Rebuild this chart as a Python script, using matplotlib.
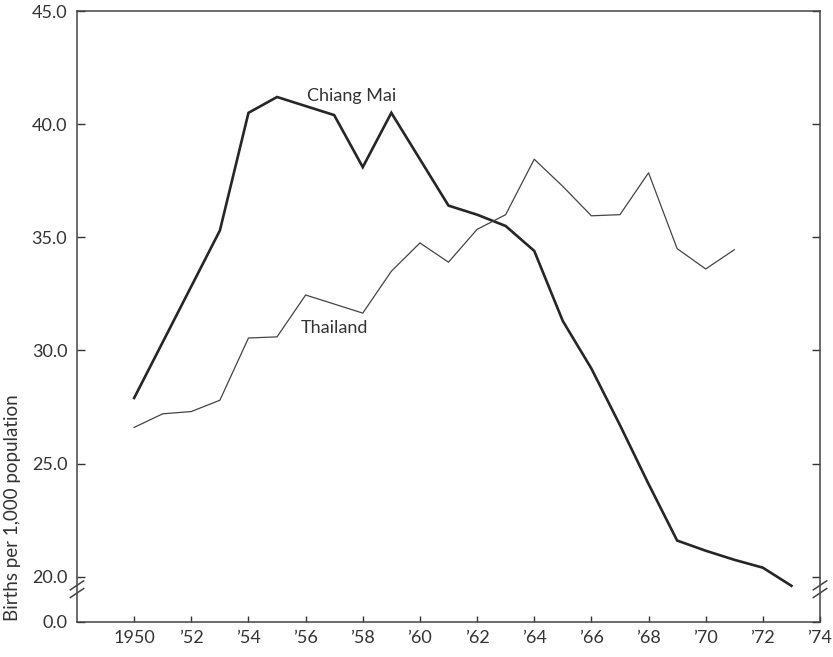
import matplotlib.pyplot as plt
import matplotlib.transforms as mtransforms

# values
cm_years = [1950, 1953, 1954, 1955, 1957, 1958, 1959, 1961, 1962, 1963, 1964,
            1965, 1966, 1967, 1968, 1969, 1970, 1971, 1972, 1973]
cm_rates = [27.9, 35.3, 40.5, 41.2, 40.4, 38.1, 40.5, 36.4, 36.0, 35.5, 34.4,
            31.3, 29.2, 26.7, 24.1, 21.6, 21.15, 20.75, 20.4, 19.6]

th_years = list(range(1950, 1972))
th_rates = [26.6, 27.2, 27.3, 27.8, 30.55, 30.6, 32.45, 32.05, 31.65, 33.5, 34.75,
            33.9, 35.35, 36.0, 38.45, 37.25, 35.95, 36.0, 37.85, 34.5, 33.6, 34.45]

x_ticks = list(range(1950, 1975, 2))
x_labels = ["1950"] + ["\u2019" + str(y)[2:] for y in x_ticks[1:]]

# the y axis is broken: "0.0" sits two units below 20.0
y_zero_pos = 18.0
y_ticks = [y_zero_pos, 20, 25, 30, 35, 40, 45]
y_labels = ["0.0", "20.0", "25.0", "30.0", "35.0", "40.0", "45.0"]

plt.rcParams["font.family"] = ["Lato", "DejaVu Sans"]
ink = "#333333"

fig = plt.figure(figsize=(8.33, 6.57), dpi=100)
ax = fig.add_axes([77 / 833, 35 / 657, 743 / 833, 611 / 657])

ax.plot(cm_years, cm_rates, color="#262626", lw=1.9, solid_joinstyle="miter")
ax.plot(th_years, th_rates, color="#444444", lw=0.9)

ax.text(1957.6, 41.25, "Chiang Mai", fontsize=13, color=ink, ha="center", va="center")
ax.text(1957.0, 31.0, "Thailand", fontsize=13, color=ink, ha="center", va="center")

ax.set_xlim(1948, 1974)
ax.set_ylim(y_zero_pos, 45)
ax.set_xticks(x_ticks)
ax.set_xticklabels(x_labels)
ax.set_yticks(y_ticks)
ax.set_yticklabels(y_labels)

ax.tick_params(axis="both", direction="in", colors=ink, labelsize=13, width=1)
ax.tick_params(axis="y", length=6, pad=7, right=True)
ax.tick_params(axis="x", length=4, pad=6)
for s in ax.spines.values():
    s.set_color("#444444")
    s.set_linewidth(1.1)

# break marks on both side spines
trans = mtransforms.blended_transform_factory(ax.transAxes, ax.transData)
for xs in (0, 1):
    for dy in (-0.17, 0.17):
        ax.plot([xs - 0.009, xs + 0.009], [19.45 + dy - 0.2, 19.45 + dy + 0.2],
                transform=trans, color="#444444", lw=1.1, clip_on=False)

fig.text(0.0155, 0.228, "Births per 1,000 population", rotation=90,
         fontsize=13.5, color=ink, ha="center", va="center")

fig.savefig("out.png", dpi=100)
